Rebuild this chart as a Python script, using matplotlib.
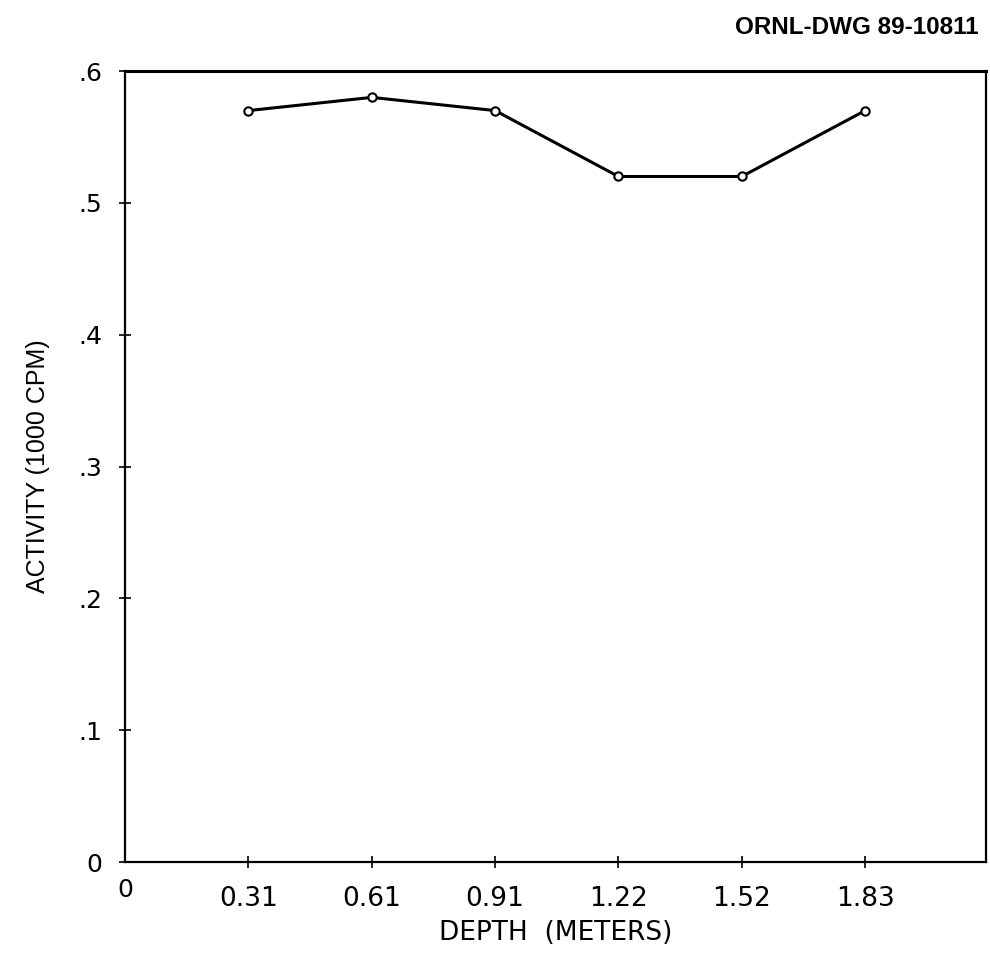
#ACTIVITY VS DEPTH PLOT (ORNL-DWG 89-10811)
import matplotlib
matplotlib.use('Agg')
import matplotlib.pyplot as plt

#DATA
depth_labels = ['0.31', '0.61', '0.91', '1.22', '1.52', '1.83']
activity = [0.57, 0.58, 0.57, 0.52, 0.52, 0.57]
y_ticks = [0, 0.1, 0.2, 0.3, 0.4, 0.5, 0.6]
y_tick_labels = ['0', '.1', '.2', '.3', '.4', '.5', '.6']

positions = list(range(1, len(depth_labels) + 1))

fig = plt.figure(figsize=(9.9, 9.56), dpi=100)
ax = fig.add_axes([0.1263, 0.0983, 0.8697, 0.8274])

ax.plot(positions, activity, color='black', linewidth=2.2,
        marker='o', markersize=6, markerfacecolor='white',
        markeredgecolor='black', markeredgewidth=1.5)

ax.set_xlim(0, 6.98)
ax.set_ylim(0, 0.6)

ax.set_xticks(positions)
ax.set_xticklabels(depth_labels, fontsize=19)
ax.set_yticks(y_ticks)
ax.set_yticklabels(y_tick_labels, fontsize=18)

ax.tick_params(axis='x', direction='inout', length=8, width=1.2, pad=13)
ax.tick_params(axis='y', direction='inout', length=9, width=1.2, pad=12)

for side in ['left', 'bottom', 'right']:
    ax.spines[side].set_linewidth(1.6)
ax.spines['top'].set_linewidth(2.2)

#ORIGIN LABEL ON X AXIS SITS A LITTLE HIGHER THAN THE OTHERS
ax.text(0, -0.012, '0', fontsize=18, ha='center', va='top')

ax.set_xlabel('DEPTH  (METERS)', fontsize=19, labelpad=6)
ax.set_ylabel('ACTIVITY (1000 CPM)', fontsize=18, family='Liberation Sans', labelpad=20)

fig.text(0.988, 0.971, 'ORNL-DWG 89-10811', fontsize=17.5, fontweight='bold',
         family='Liberation Sans', ha='right', va='center')

fig.savefig('out.png', dpi=100)
